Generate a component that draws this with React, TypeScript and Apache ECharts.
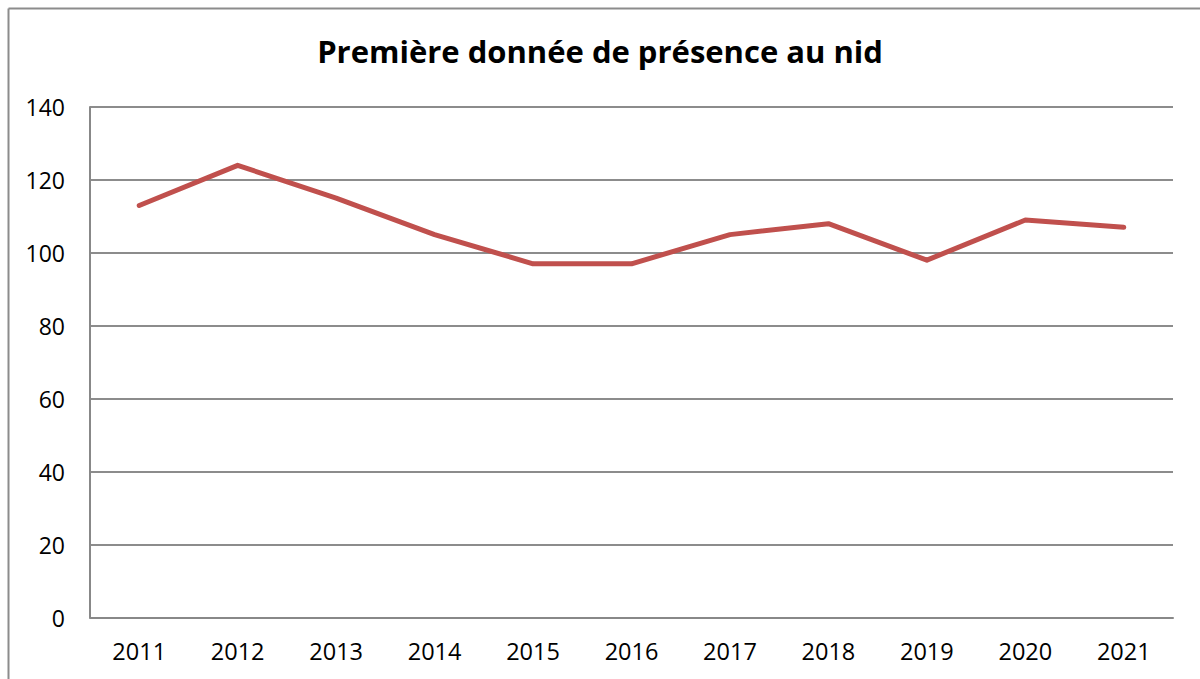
import React, { useEffect, useRef } from "react";
import * as echarts from "echarts";

const years = ["2011", "2012", "2013", "2014", "2015", "2016", "2017", "2018", "2019", "2020", "2021"];
const firstPresence = [113, 124, 115, 105, 97, 97, 105, 108, 98, 109, 107];
const titleText = "Première donnée de présence au nid";

export default function App() {
  const ref = useRef<HTMLDivElement>(null);
  useEffect(() => {
    if (!ref.current) return;
    const chart = echarts.init(ref.current, null, { renderer: "svg" });
    const font = "'Open Sans', sans-serif";
    chart.setOption({
      animation: false,
      backgroundColor: "#ffffff",
      title: {
        text: titleText,
        left: "center",
        top: 30,
        textStyle: { fontFamily: font, fontWeight: "bold", fontSize: 31, color: "#000" },
      },
      graphic: [
        { type: "line", shape: { x1: 8.5, y1: 8.5, x2: 1200, y2: 8.5 }, style: { stroke: "#8c8c8c", lineWidth: 2 } },
        { type: "line", shape: { x1: 8.5, y1: 8.5, x2: 8.5, y2: 679 }, style: { stroke: "#8c8c8c", lineWidth: 2 } },
      ],
      grid: { left: 90, right: 27, top: 107, bottom: 61.5, containLabel: false },
      xAxis: {
        type: "category",
        data: years,
        boundaryGap: true,
        axisLine: { show: true, lineStyle: { color: "#888", width: 2 } },
        axisTick: { show: false },
        axisLabel: { fontFamily: font, fontSize: 23.5, color: "#000", margin: 21 },
        splitLine: { show: false },
      },
      yAxis: {
        type: "value",
        min: 0,
        max: 140,
        interval: 20,
        axisLine: { show: true, lineStyle: { color: "#888", width: 2 } },
        axisTick: { show: false },
        axisLabel: { fontFamily: font, fontSize: 23, color: "#000", margin: 25 },
        splitLine: { show: true, lineStyle: { color: "#8c8c8c", width: 2 } },
      },
      series: [
        {
          type: "line",
          data: firstPresence,
          symbol: "none",
          lineStyle: { color: "#c0504d", width: 5, cap: "round", join: "round" },
          itemStyle: { color: "#c0504d" },
        },
      ],
    });
    return () => chart.dispose();
  }, []);
  return (
    <div
      ref={ref}
      style={{ position: "fixed", left: 0, top: 0, width: 1200, height: 679 }}
    />
  );
}
